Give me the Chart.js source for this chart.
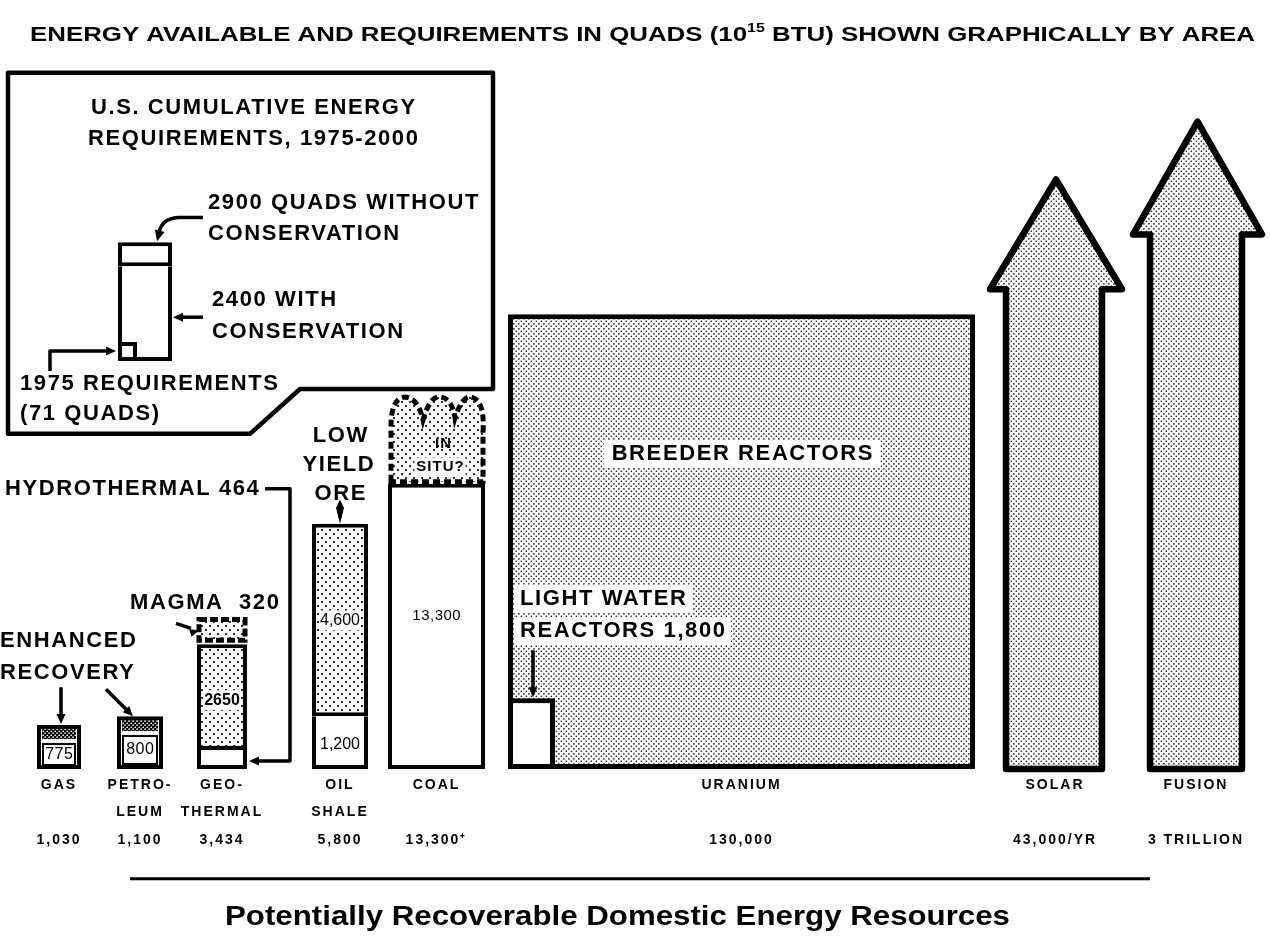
<!DOCTYPE html>
<html><head><meta charset="utf-8">
<script src="https://cdn.jsdelivr.net/npm/chart.js@4.4.1/dist/chart.umd.min.js"></script>
<style>html,body{margin:0;padding:0;background:#fff;}canvas{display:block;}</style>
</head><body>
<canvas id="c" width="1270" height="937"></canvas>
<script>
// ================= DATA (quads, 10^15 BTU) =================
const categories   = ['GAS', 'PETROLEUM', 'GEOTHERMAL', 'OIL SHALE', 'COAL', 'URANIUM', 'SOLAR', 'FUSION'];
const categoryRows = [['GAS', ''], ['PETRO-', 'LEUM'], ['GEO-', 'THERMAL'], ['OIL', 'SHALE'], ['COAL', ''], ['URANIUM', ''], ['SOLAR', ''], ['FUSION', '']];
const totalValues  = [1030, 1100, 3434, 5800, 13300, 130000, 43000, 3e12];
const totalLabels  = ['1,030', '1,100', '3,434', '5,800', '13,300\u207A', '130,000', '43,000/YR', '3 TRILLION'];
const conventional = [775, 800];            // gas, petroleum
const enhancedRec  = [255, 300];            // gas, petroleum (enhanced recovery)
const geoParts     = [464, 2650, 320];      // hydrothermal, main, magma
const oilShaleParts = [1200, 4600];         // rich ore, low yield ore
const coalParts    = [13300];
const uraniumParts = [1800, 128200];        // light water, breeder
const requirements = [71, 2400, 2900];      // 1975, 1975-2000 with / without conservation

// ================= LAYOUT (drawing geometry in axis units) =================
const L = {
  centers: [59, 140, 222, 340, 436.5, 741.5, 1055, 1196],
  gas:  {cx: 59,  w: 44, top: 44, inW: 34, inLo: 3, inHi: 26, strip: [30, 40]},
  pet:  {cx: 140, w: 46, top: 53, inW: 36, inLo: 4, inHi: 34, strip: [38, 49]},
  geo:  {cx: 222, w: 50, hydro: 19, main: 125, magma: [129, 150]},
  oil:  {cx: 340, w: 56, split: 53, top: 246},
  coal: {cx: 436.5, w: 97, top: 286},
  ura:  {cx: 741.5, w: 467, top: 456},
  lwr:  {cx: 531.5, w: 47, top: 71},
  req:  {cx: 145, w: 54, base: 409, withC: 504, without: 528, r75cx: 127.5, r75w: 19, r75top: 428},
  solar:  {x0: 1006, x1: 1102, h0: 990, h1: 1122, wing: 481, tip: 591},
  fusion: {x0: 1150, x1: 1242, h0: 1133, h1: 1262, wing: 536, tip: 649}
};

const canvas = document.getElementById('c');
const ctx0 = canvas.getContext('2d');
function dotPattern(step, r, bg, fg) {
  const t = document.createElement('canvas');
  t.width = step * 2; t.height = step * 2;
  const g = t.getContext('2d');
  g.fillStyle = bg; g.fillRect(0, 0, t.width, t.height);
  g.fillStyle = fg;
  [[0.5, 0.5], [1.5, 1.5]].forEach(([a, b]) => { g.beginPath(); g.arc(a * step, b * step, r, 0, Math.PI * 2); g.fill(); });
  return ctx0.createPattern(t, 'repeat');
}
const fineDots   = dotPattern(2.6, 0.8, '#fff', '#000');
const coarseDots = dotPattern(4, 1.1, '#fff', '#000');
const darkDots   = dotPattern(2.2, 0.9, '#000', '#fff');

function bar(label, cx, w, lo, hi, bg, bw) {
  return {label, data: [{x: cx, y: [lo, hi]}], barThickness: w, backgroundColor: bg,
          borderColor: '#000', borderWidth: bw, borderSkipped: false, inflateAmount: 0};
}
const B4 = {top: 4, right: 4, bottom: 4, left: 4};
const noTop = (n) => ({top: 0, right: n, bottom: n, left: n});

const datasets = [
  bar('1975 requirements ' + requirements[0], L.req.r75cx, L.req.r75w, L.req.base, L.req.r75top, '#fff', B4),
  bar('With conservation ' + requirements[1], L.req.cx, L.req.w, L.req.base, L.req.withC, '#fff', noTop(4)),
  bar('Without conservation ' + requirements[2], L.req.cx, L.req.w, L.req.withC, L.req.without, '#fff', B4),
  bar('Gas conventional ' + conventional[0], L.gas.cx, L.gas.inW, L.gas.inLo, L.gas.inHi, '#fff', 2),
  bar('Gas', L.gas.cx, L.gas.w, 0, L.gas.top, '#fff', 4),
  bar('Petroleum conventional ' + conventional[1], L.pet.cx, L.pet.inW, L.pet.inLo, L.pet.inHi, '#fff', 2),
  bar('Petroleum', L.pet.cx, L.pet.w, 0, L.pet.top, '#fff', 4),
  bar('Hydrothermal ' + geoParts[0], L.geo.cx, L.geo.w, 0, L.geo.hydro, '#fff', noTop(4)),
  bar('Geothermal ' + geoParts[1], L.geo.cx, L.geo.w, L.geo.hydro, L.geo.main, coarseDots, B4),
  bar('Oil shale ' + oilShaleParts[0], L.oil.cx, L.oil.w, 0, L.oil.split, '#fff', noTop(4)),
  bar('Low yield ore ' + oilShaleParts[1], L.oil.cx, L.oil.w, L.oil.split, L.oil.top, coarseDots, B4),
  bar('Coal ' + coalParts[0], L.coal.cx, L.coal.w, 0, L.coal.top, '#fff', 4),
  bar('Light water reactors ' + uraniumParts[0], L.lwr.cx, L.lwr.w, 0, L.lwr.top, '#fff', 5),
  bar('Breeder reactors ' + uraniumParts[1], L.ura.cx, L.ura.w, 0, L.ura.top, fineDots, 5)
];

const FONT = '"Liberation Sans", Arial, Helvetica, sans-serif';

function txt(ctx, s, x, y, o = {}) {
  const size = o.size || 22, weight = o.weight || 'bold', ls = o.ls != null ? o.ls : 1.6;
  ctx.save();
  ctx.font = `${weight} ${size}px ${FONT}`;
  ctx.letterSpacing = ls + 'px';
  ctx.textBaseline = 'middle';
  ctx.textAlign = 'left';
  const w = ctx.measureText(s).width - ls;
  const x0 = o.align === 'center' ? x - w / 2 : (o.align === 'right' ? x - w : x);
  if (o.bg) {
    const p = o.pad || 4;
    ctx.fillStyle = '#fff';
    ctx.fillRect(x0 - p, y - size * 0.62, w + 2 * p, size * 1.24);
  }
  ctx.fillStyle = '#000';
  ctx.fillText(s, x0, y);
  ctx.restore();
}
function head(ctx, x, y, ang, len, wid) {
  ctx.save();
  ctx.translate(x, y); ctx.rotate(ang);
  ctx.beginPath(); ctx.moveTo(0, 0); ctx.lineTo(-len, -wid / 2); ctx.lineTo(-len, wid / 2); ctx.closePath();
  ctx.fillStyle = '#000'; ctx.fill();
  ctx.restore();
}

const infoPlugin = {
  id: 'info',
  beforeDraw(chart) {
    const ctx = chart.ctx;
    ctx.save(); ctx.fillStyle = '#fff'; ctx.fillRect(0, 0, chart.width, chart.height); ctx.restore();
    ctx.letterSpacing = '2px';   // spacing for axis tick labels
  },
  beforeDatasetsDraw(chart) {
    const ctx = chart.ctx;
    ctx.letterSpacing = '0px';
    const X = v => chart.scales.x.getPixelForValue(v);
    const Y = v => chart.scales.y.getPixelForValue(v);

    // inset box for requirements
    ctx.save();
    ctx.beginPath();
    ctx.moveTo(X(8), Y(698)); ctx.lineTo(X(493), Y(698)); ctx.lineTo(X(493), Y(381));
    ctx.lineTo(X(300), Y(381)); ctx.lineTo(X(250), Y(336)); ctx.lineTo(X(8), Y(336)); ctx.closePath();
    ctx.fillStyle = '#fff'; ctx.fill();
    ctx.lineWidth = 4.5; ctx.lineJoin = 'round'; ctx.strokeStyle = '#000'; ctx.stroke();
    ctx.restore();

    // solar / fusion arrows
    [L.solar, L.fusion].forEach(a => {
      ctx.save();
      ctx.beginPath();
      ctx.moveTo(X(a.x0), Y(0)); ctx.lineTo(X(a.x0), Y(a.wing)); ctx.lineTo(X(a.h0), Y(a.wing));
      ctx.lineTo(X((a.h0 + a.h1) / 2), Y(a.tip)); ctx.lineTo(X(a.h1), Y(a.wing));
      ctx.lineTo(X(a.x1), Y(a.wing)); ctx.lineTo(X(a.x1), Y(0)); ctx.closePath();
      ctx.fillStyle = fineDots; ctx.fill();
      ctx.lineWidth = 6.5; ctx.lineJoin = 'round'; ctx.strokeStyle = '#000'; ctx.stroke();
      ctx.restore();
    });

    // coal "in situ" cloud
    ctx.save();
    ctx.beginPath();
    ctx.moveTo(X(391), Y(288));
    ctx.lineTo(X(391), Y(338));
    ctx.quadraticCurveTo(X(390), Y(372), X(405), Y(373));
    ctx.quadraticCurveTo(X(418), Y(372), X(423), Y(350));
    ctx.quadraticCurveTo(X(430), Y(374), X(440), Y(373));
    ctx.quadraticCurveTo(X(452), Y(372), X(455), Y(352));
    ctx.quadraticCurveTo(X(462), Y(374), X(471), Y(373));
    ctx.quadraticCurveTo(X(485), Y(370), X(483), Y(338));
    ctx.lineTo(X(483), Y(288));
    ctx.closePath();
    ctx.fillStyle = coarseDots; ctx.fill();
    ctx.setLineDash([7, 4]); ctx.lineWidth = 5; ctx.strokeStyle = '#000'; ctx.stroke();
    ctx.restore();

    // magma (dashed cap on geothermal)
    ctx.save();
    const gx0 = X(L.geo.cx - L.geo.w / 2 + 2), gx1 = X(L.geo.cx + L.geo.w / 2 - 2);
    ctx.fillStyle = coarseDots;
    ctx.fillRect(gx0, Y(L.geo.magma[1]), gx1 - gx0, Y(L.geo.magma[0]) - Y(L.geo.magma[1]));
    ctx.setLineDash([8, 3]); ctx.lineWidth = 5; ctx.strokeStyle = '#000';
    ctx.strokeRect(gx0, Y(L.geo.magma[1]), gx1 - gx0, Y(L.geo.magma[0]) - Y(L.geo.magma[1]));
    ctx.restore();

    // separator line and titles
    ctx.save();
    ctx.beginPath(); ctx.moveTo(X(130), Y(-110)); ctx.lineTo(X(1150), Y(-110));
    ctx.lineWidth = 3; ctx.strokeStyle = '#000'; ctx.stroke();

    // top title with superscript
    const t1 = 'ENERGY AVAILABLE AND REQUIREMENTS IN QUADS (10', t2 = '15', t3 = ' BTU) SHOWN GRAPHICALLY BY AREA';
    ctx.textBaseline = 'alphabetic';
    ctx.font = `bold 21px ${FONT}`;
    const w1 = ctx.measureText(t1).width, w3 = ctx.measureText(t3).width;
    ctx.font = `bold 13px ${FONT}`;
    const w2 = ctx.measureText(t2).width;
    const total = w1 + w2 + w3, sx = (X(1255) - X(30)) / total;
    ctx.translate(X(30), Y(730)); ctx.scale(sx, 1);
    ctx.fillStyle = '#000';
    ctx.font = `bold 21px ${FONT}`; ctx.fillText(t1, 0, 0);
    ctx.font = `bold 13px ${FONT}`; ctx.fillText(t2, w1, -9);
    ctx.font = `bold 21px ${FONT}`; ctx.fillText(t3, w1 + w2, 0);
    ctx.restore();

    ctx.save();
    const bt = 'Potentially Recoverable Domestic Energy Resources';
    ctx.font = `bold 27px "Liberation Sans Narrow", ${FONT}`;
    ctx.textBaseline = 'alphabetic';
    const bw = ctx.measureText(bt).width, bsx = (X(1010) - X(225)) / bw;
    ctx.translate(X(225), Y(-156)); ctx.scale(bsx, 1);
    ctx.fillStyle = '#000'; ctx.fillText(bt, 0, 0);
    ctx.restore();
  },
  afterDatasetsDraw(chart) {
    const ctx = chart.ctx;
    const X = v => chart.scales.x.getPixelForValue(v);
    const Y = v => chart.scales.y.getPixelForValue(v);

    // enhanced recovery strips on gas & petroleum
    [L.gas, L.pet].forEach(b => {
      ctx.save();
      ctx.fillStyle = darkDots;
      const x0 = X(b.cx - b.inW / 2), x1 = X(b.cx + b.inW / 2);
      ctx.fillRect(x0, Y(b.strip[1]), x1 - x0, Y(b.strip[0]) - Y(b.strip[1]));
      ctx.restore();
    });

    ctx.save();
    ctx.strokeStyle = '#000'; ctx.lineWidth = 3.5; ctx.lineCap = 'butt'; ctx.lineJoin = 'round';
    const line = (pts) => { ctx.beginPath(); pts.forEach((p, i) => i ? ctx.lineTo(X(p[0]), Y(p[1])) : ctx.moveTo(X(p[0]), Y(p[1]))); ctx.stroke(); };

    // inset arrows
    ctx.beginPath(); ctx.moveTo(X(203), Y(553)); ctx.lineTo(X(178), Y(553));
    ctx.quadraticCurveTo(X(162), Y(552), X(159), Y(538)); ctx.stroke();
    head(ctx, X(157), Y(529), Math.PI * 0.58, 11, 10);
    line([[203, 453], [181, 453]]); head(ctx, X(173), Y(453), Math.PI, 10, 9);
    line([[50, 399], [50, 419], [108, 419]]); head(ctx, X(116), Y(419), 0, 10, 9);

    // hydrothermal connector
    line([[265, 281], [290, 281], [290, 8], [258, 8]]); head(ctx, X(249), Y(8), Math.PI, 10, 9);
    // magma
    line([[176, 146], [191, 141]]); head(ctx, X(199), Y(139), -0.3, 9, 8);
    // enhanced recovery
    line([[61, 82], [61, 53]]); head(ctx, X(61), Y(45), Math.PI / 2, 10, 9);
    line([[106, 80], [126, 60]]); head(ctx, X(133), Y(53), Math.PI / 4, 10, 9);
    // low yield ore
    line([[340, 266], [340, 252]]);
    ctx.beginPath(); ctx.moveTo(X(340), Y(270)); ctx.lineTo(X(344), Y(262)); ctx.lineTo(X(340), Y(246)); ctx.lineTo(X(336), Y(262)); ctx.closePath(); ctx.fillStyle = '#000'; ctx.fill();
    // light water reactors
    line([[533, 119], [533, 80]]); head(ctx, X(533), Y(72), Math.PI / 2, 10, 9);
    ctx.restore();

    // ---- text ----
    txt(ctx, 'U.S. CUMULATIVE ENERGY', X(253), Y(663), {align: 'center'});
    txt(ctx, 'REQUIREMENTS, 1975-2000', X(253), Y(632), {align: 'center'});
    txt(ctx, requirements[2] + ' QUADS WITHOUT', X(208), Y(568));
    txt(ctx, 'CONSERVATION', X(208), Y(536));
    txt(ctx, requirements[1] + ' WITH', X(212), Y(470));
    txt(ctx, 'CONSERVATION', X(212), Y(438));
    txt(ctx, '1975 REQUIREMENTS', X(20), Y(386));
    txt(ctx, '(' + requirements[0] + ' QUADS)', X(20), Y(356));

    txt(ctx, 'HYDROTHERMAL ' + geoParts[0], X(5), Y(281));
    txt(ctx, 'MAGMA  ' + geoParts[2], X(130), Y(166));
    txt(ctx, 'ENHANCED', X(0), Y(128));
    txt(ctx, 'RECOVERY', X(0), Y(96));
    txt(ctx, 'LOW', X(340), Y(334), {align: 'center'});
    txt(ctx, 'YIELD', X(338), Y(305), {align: 'center'});
    txt(ctx, 'ORE', X(340), Y(276), {align: 'center'});
    txt(ctx, 'IN', X(443), Y(326), {align: 'center', size: 15, ls: 1});
    txt(ctx, 'SITU?', X(440), Y(303), {align: 'center', size: 15, ls: 1, bg: true, pad: 2});

    txt(ctx, String(conventional[0]), X(L.gas.cx), Y(14), {align: 'center', size: 16, ls: 0.5, weight: 'normal'});
    txt(ctx, String(conventional[1]), X(L.pet.cx), Y(19), {align: 'center', size: 16, ls: 0.5, weight: 'normal'});
    txt(ctx, String(geoParts[1]), X(L.geo.cx), Y(69), {align: 'center', size: 16, ls: 0, bg: true, pad: 1});
    txt(ctx, oilShaleParts[1].toLocaleString('en-US'), X(L.oil.cx), Y(149), {align: 'center', size: 16, ls: 0, bg: true, pad: 1, weight: 'normal'});
    txt(ctx, oilShaleParts[0].toLocaleString('en-US'), X(L.oil.cx), Y(24), {align: 'center', size: 16, ls: 0, weight: 'normal'});
    txt(ctx, coalParts[0].toLocaleString('en-US'), X(L.coal.cx), Y(154), {align: 'center', size: 15, ls: 0.5, weight: 'normal'});

    txt(ctx, 'BREEDER REACTORS', X(742), Y(316), {align: 'center', bg: true, pad: 8});
    txt(ctx, 'LIGHT WATER', X(520), Y(171), {bg: true, pad: 6});
    txt(ctx, 'REACTORS ' + uraniumParts[0].toLocaleString('en-US'), X(520), Y(138), {bg: true, pad: 6});
  }
};

new Chart(canvas, {
  type: 'bar',
  data: {datasets},
  options: {
    responsive: false, animation: false, devicePixelRatio: 1,
    layout: {padding: {left: 0, right: 0, top: 0, bottom: 81.5}},
    plugins: {legend: {display: false}, tooltip: {enabled: false}, title: {display: false}},
    scales: {
      x: {
        type: 'linear', min: 0, max: 1270, stacked: true, offset: false,
        grid: {display: false, drawTicks: false}, border: {display: false},
        afterBuildTicks: (axis) => { axis.ticks = L.centers.map(v => ({value: v})); },
        ticks: {
          autoSkip: false, maxRotation: 0, minRotation: 0, padding: 2, color: '#000',
          font: {family: FONT, size: 14, weight: 'bold', lineHeight: 27.5 / 14},
          callback: (v, i) => [categoryRows[i][0], categoryRows[i][1], totalLabels[i]]
        }
      },
      y: {type: 'linear', min: 0, max: 771, display: false}
    }
  },
  plugins: [infoPlugin]
});
</script>
</body></html>
